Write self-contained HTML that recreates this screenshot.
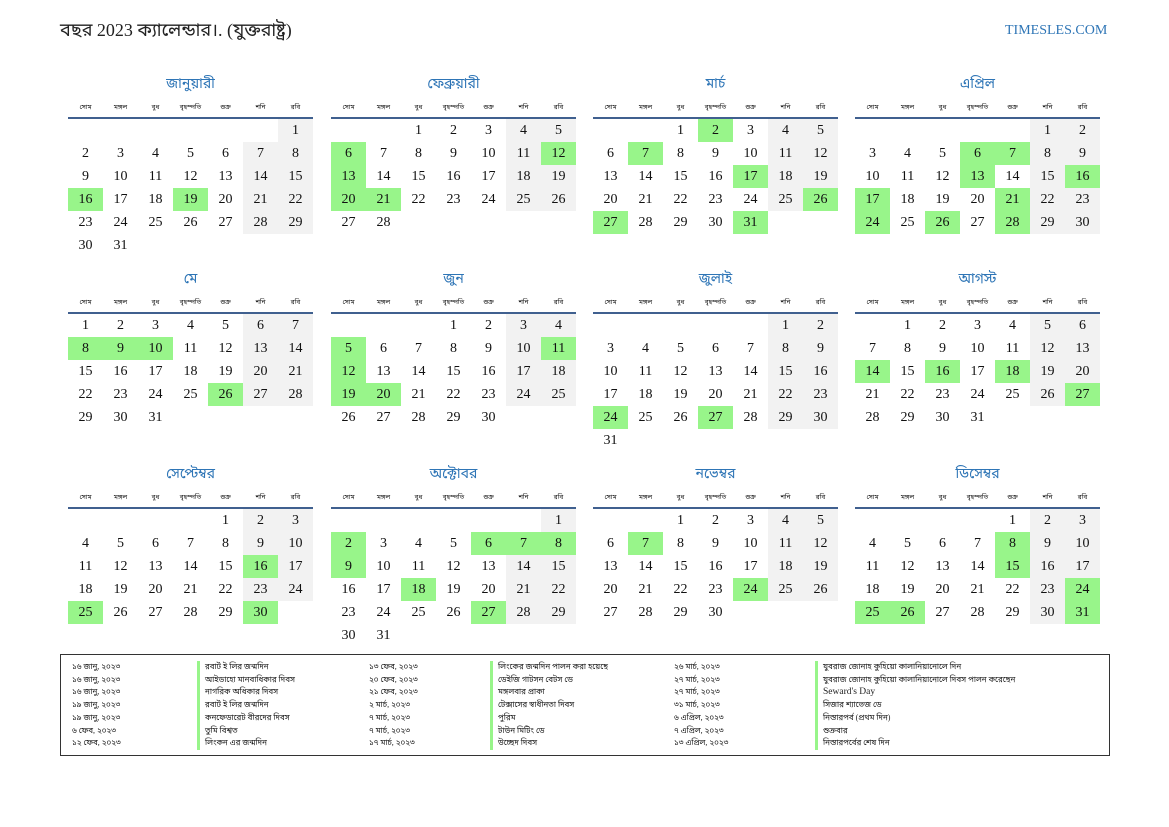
<!DOCTYPE html>
<html><head><meta charset="utf-8">
<style>
body{margin:0;width:1169px;height:827px;background:#fff;position:relative;overflow:hidden;font-family:"Liberation Serif","Noto Sans Bengali","Lohit Bengali",serif;}
.t{position:absolute;left:60px;top:20px;font-size:18px;color:#222;}
.site{position:absolute;left:1005px;top:23px;font-size:14px;color:#2e75b6;}
.m{position:absolute;width:245px;}
.m h3{margin:0;height:22px;text-align:center;font-weight:normal;font-size:14px;color:#2e75b6;line-height:24px;}
.dn{display:flex;height:22px;border-bottom:2px solid #40608f;}
.dn span{width:35px;text-align:center;font-size:6.5px;color:#222;line-height:26px;}
table{border-collapse:collapse;table-layout:fixed;width:245px;}
td{width:35px;height:23px;padding:0;text-align:center;font-size:14px;color:#111;}
td.w{background:#f2f2f2;}
td.g{background:#98f58a;}
.box{position:absolute;left:60px;top:654px;width:1048px;height:100px;border:1.5px solid #333;font-size:8px;color:#222;}
.c{position:absolute;top:6px;line-height:12.7px;}
.b div{border-left:3px solid #98f58a;padding-left:5px;}
</style></head><body>
<div class="t">বছর 2023 ক্যালেন্ডার।. (যুক্তরাষ্ট্র)</div>
<div class="site">TIMESLES.COM</div>

<div class="m" style="left:68px;top:73px"><h3>জানুয়ারী</h3><div class="dn"><span>সোম</span><span>মঙ্গল</span><span>বুধ</span><span>বৃহস্পতি</span><span>শুক্র</span><span>শনি</span><span>রবি</span></div><table>
<tr><td></td><td></td><td></td><td></td><td></td><td></td><td class="w">1</td></tr>
<tr><td>2</td><td>3</td><td>4</td><td>5</td><td>6</td><td class="w">7</td><td class="w">8</td></tr>
<tr><td>9</td><td>10</td><td>11</td><td>12</td><td>13</td><td class="w">14</td><td class="w">15</td></tr>
<tr><td class="g">16</td><td>17</td><td>18</td><td class="g">19</td><td>20</td><td class="w">21</td><td class="w">22</td></tr>
<tr><td>23</td><td>24</td><td>25</td><td>26</td><td>27</td><td class="w">28</td><td class="w">29</td></tr>
<tr><td>30</td><td>31</td><td></td><td></td><td></td><td></td><td></td></tr></table></div>

<div class="m" style="left:331px;top:73px"><h3>ফেব্রুয়ারী</h3><div class="dn"><span>সোম</span><span>মঙ্গল</span><span>বুধ</span><span>বৃহস্পতি</span><span>শুক্র</span><span>শনি</span><span>রবি</span></div><table>
<tr><td></td><td></td><td>1</td><td>2</td><td>3</td><td class="w">4</td><td class="w">5</td></tr>
<tr><td class="g">6</td><td>7</td><td>8</td><td>9</td><td>10</td><td class="w">11</td><td class="g">12</td></tr>
<tr><td class="g">13</td><td>14</td><td>15</td><td>16</td><td>17</td><td class="w">18</td><td class="w">19</td></tr>
<tr><td class="g">20</td><td class="g">21</td><td>22</td><td>23</td><td>24</td><td class="w">25</td><td class="w">26</td></tr>
<tr><td>27</td><td>28</td><td></td><td></td><td></td><td></td><td></td></tr></table></div>

<div class="m" style="left:593px;top:73px"><h3>মার্চ</h3><div class="dn"><span>সোম</span><span>মঙ্গল</span><span>বুধ</span><span>বৃহস্পতি</span><span>শুক্র</span><span>শনি</span><span>রবি</span></div><table>
<tr><td></td><td></td><td>1</td><td class="g">2</td><td>3</td><td class="w">4</td><td class="w">5</td></tr>
<tr><td>6</td><td class="g">7</td><td>8</td><td>9</td><td>10</td><td class="w">11</td><td class="w">12</td></tr>
<tr><td>13</td><td>14</td><td>15</td><td>16</td><td class="g">17</td><td class="w">18</td><td class="w">19</td></tr>
<tr><td>20</td><td>21</td><td>22</td><td>23</td><td>24</td><td class="w">25</td><td class="g">26</td></tr>
<tr><td class="g">27</td><td>28</td><td>29</td><td>30</td><td class="g">31</td><td></td><td></td></tr></table></div>

<div class="m" style="left:855px;top:73px"><h3>এপ্রিল</h3><div class="dn"><span>সোম</span><span>মঙ্গল</span><span>বুধ</span><span>বৃহস্পতি</span><span>শুক্র</span><span>শনি</span><span>রবি</span></div><table>
<tr><td></td><td></td><td></td><td></td><td></td><td class="w">1</td><td class="w">2</td></tr>
<tr><td>3</td><td>4</td><td>5</td><td class="g">6</td><td class="g">7</td><td class="w">8</td><td class="w">9</td></tr>
<tr><td>10</td><td>11</td><td>12</td><td class="g">13</td><td>14</td><td class="w">15</td><td class="g">16</td></tr>
<tr><td class="g">17</td><td>18</td><td>19</td><td>20</td><td class="g">21</td><td class="w">22</td><td class="w">23</td></tr>
<tr><td class="g">24</td><td>25</td><td class="g">26</td><td>27</td><td class="g">28</td><td class="w">29</td><td class="w">30</td></tr></table></div>

<div class="m" style="left:68px;top:268px"><h3>মে</h3><div class="dn"><span>সোম</span><span>মঙ্গল</span><span>বুধ</span><span>বৃহস্পতি</span><span>শুক্র</span><span>শনি</span><span>রবি</span></div><table>
<tr><td>1</td><td>2</td><td>3</td><td>4</td><td>5</td><td class="w">6</td><td class="w">7</td></tr>
<tr><td class="g">8</td><td class="g">9</td><td class="g">10</td><td>11</td><td>12</td><td class="w">13</td><td class="w">14</td></tr>
<tr><td>15</td><td>16</td><td>17</td><td>18</td><td>19</td><td class="w">20</td><td class="w">21</td></tr>
<tr><td>22</td><td>23</td><td>24</td><td>25</td><td class="g">26</td><td class="w">27</td><td class="w">28</td></tr>
<tr><td>29</td><td>30</td><td>31</td><td></td><td></td><td></td><td></td></tr></table></div>

<div class="m" style="left:331px;top:268px"><h3>জুন</h3><div class="dn"><span>সোম</span><span>মঙ্গল</span><span>বুধ</span><span>বৃহস্পতি</span><span>শুক্র</span><span>শনি</span><span>রবি</span></div><table>
<tr><td></td><td></td><td></td><td>1</td><td>2</td><td class="w">3</td><td class="w">4</td></tr>
<tr><td class="g">5</td><td>6</td><td>7</td><td>8</td><td>9</td><td class="w">10</td><td class="g">11</td></tr>
<tr><td class="g">12</td><td>13</td><td>14</td><td>15</td><td>16</td><td class="w">17</td><td class="w">18</td></tr>
<tr><td class="g">19</td><td class="g">20</td><td>21</td><td>22</td><td>23</td><td class="w">24</td><td class="w">25</td></tr>
<tr><td>26</td><td>27</td><td>28</td><td>29</td><td>30</td><td></td><td></td></tr></table></div>

<div class="m" style="left:593px;top:268px"><h3>জুলাই</h3><div class="dn"><span>সোম</span><span>মঙ্গল</span><span>বুধ</span><span>বৃহস্পতি</span><span>শুক্র</span><span>শনি</span><span>রবি</span></div><table>
<tr><td></td><td></td><td></td><td></td><td></td><td class="w">1</td><td class="w">2</td></tr>
<tr><td>3</td><td>4</td><td>5</td><td>6</td><td>7</td><td class="w">8</td><td class="w">9</td></tr>
<tr><td>10</td><td>11</td><td>12</td><td>13</td><td>14</td><td class="w">15</td><td class="w">16</td></tr>
<tr><td>17</td><td>18</td><td>19</td><td>20</td><td>21</td><td class="w">22</td><td class="w">23</td></tr>
<tr><td class="g">24</td><td>25</td><td>26</td><td class="g">27</td><td>28</td><td class="w">29</td><td class="w">30</td></tr>
<tr><td>31</td><td></td><td></td><td></td><td></td><td></td><td></td></tr></table></div>

<div class="m" style="left:855px;top:268px"><h3>আগস্ট</h3><div class="dn"><span>সোম</span><span>মঙ্গল</span><span>বুধ</span><span>বৃহস্পতি</span><span>শুক্র</span><span>শনি</span><span>রবি</span></div><table>
<tr><td></td><td>1</td><td>2</td><td>3</td><td>4</td><td class="w">5</td><td class="w">6</td></tr>
<tr><td>7</td><td>8</td><td>9</td><td>10</td><td>11</td><td class="w">12</td><td class="w">13</td></tr>
<tr><td class="g">14</td><td>15</td><td class="g">16</td><td>17</td><td class="g">18</td><td class="w">19</td><td class="w">20</td></tr>
<tr><td>21</td><td>22</td><td>23</td><td>24</td><td>25</td><td class="w">26</td><td class="g">27</td></tr>
<tr><td>28</td><td>29</td><td>30</td><td>31</td><td></td><td></td><td></td></tr></table></div>

<div class="m" style="left:68px;top:463px"><h3>সেপ্টেম্বর</h3><div class="dn"><span>সোম</span><span>মঙ্গল</span><span>বুধ</span><span>বৃহস্পতি</span><span>শুক্র</span><span>শনি</span><span>রবি</span></div><table>
<tr><td></td><td></td><td></td><td></td><td>1</td><td class="w">2</td><td class="w">3</td></tr>
<tr><td>4</td><td>5</td><td>6</td><td>7</td><td>8</td><td class="w">9</td><td class="w">10</td></tr>
<tr><td>11</td><td>12</td><td>13</td><td>14</td><td>15</td><td class="g">16</td><td class="w">17</td></tr>
<tr><td>18</td><td>19</td><td>20</td><td>21</td><td>22</td><td class="w">23</td><td class="w">24</td></tr>
<tr><td class="g">25</td><td>26</td><td>27</td><td>28</td><td>29</td><td class="g">30</td><td></td></tr></table></div>

<div class="m" style="left:331px;top:463px"><h3>অক্টোবর</h3><div class="dn"><span>সোম</span><span>মঙ্গল</span><span>বুধ</span><span>বৃহস্পতি</span><span>শুক্র</span><span>শনি</span><span>রবি</span></div><table>
<tr><td></td><td></td><td></td><td></td><td></td><td></td><td class="w">1</td></tr>
<tr><td class="g">2</td><td>3</td><td>4</td><td>5</td><td class="g">6</td><td class="g">7</td><td class="g">8</td></tr>
<tr><td class="g">9</td><td>10</td><td>11</td><td>12</td><td>13</td><td class="w">14</td><td class="w">15</td></tr>
<tr><td>16</td><td>17</td><td class="g">18</td><td>19</td><td>20</td><td class="w">21</td><td class="w">22</td></tr>
<tr><td>23</td><td>24</td><td>25</td><td>26</td><td class="g">27</td><td class="w">28</td><td class="w">29</td></tr>
<tr><td>30</td><td>31</td><td></td><td></td><td></td><td></td><td></td></tr></table></div>

<div class="m" style="left:593px;top:463px"><h3>নভেম্বর</h3><div class="dn"><span>সোম</span><span>মঙ্গল</span><span>বুধ</span><span>বৃহস্পতি</span><span>শুক্র</span><span>শনি</span><span>রবি</span></div><table>
<tr><td></td><td></td><td>1</td><td>2</td><td>3</td><td class="w">4</td><td class="w">5</td></tr>
<tr><td>6</td><td class="g">7</td><td>8</td><td>9</td><td>10</td><td class="w">11</td><td class="w">12</td></tr>
<tr><td>13</td><td>14</td><td>15</td><td>16</td><td>17</td><td class="w">18</td><td class="w">19</td></tr>
<tr><td>20</td><td>21</td><td>22</td><td>23</td><td class="g">24</td><td class="w">25</td><td class="w">26</td></tr>
<tr><td>27</td><td>28</td><td>29</td><td>30</td><td></td><td></td><td></td></tr></table></div>

<div class="m" style="left:855px;top:463px"><h3>ডিসেম্বর</h3><div class="dn"><span>সোম</span><span>মঙ্গল</span><span>বুধ</span><span>বৃহস্পতি</span><span>শুক্র</span><span>শনি</span><span>রবি</span></div><table>
<tr><td></td><td></td><td></td><td></td><td>1</td><td class="w">2</td><td class="w">3</td></tr>
<tr><td>4</td><td>5</td><td>6</td><td>7</td><td class="g">8</td><td class="w">9</td><td class="w">10</td></tr>
<tr><td>11</td><td>12</td><td>13</td><td>14</td><td class="g">15</td><td class="w">16</td><td class="w">17</td></tr>
<tr><td>18</td><td>19</td><td>20</td><td>21</td><td>22</td><td class="w">23</td><td class="g">24</td></tr>
<tr><td class="g">25</td><td class="g">26</td><td>27</td><td>28</td><td>29</td><td class="w">30</td><td class="g">31</td></tr></table></div>

<div class="box">
<div class="c" style="left:11px"><div>১৬ জানু, ২০২৩</div><div>১৬ জানু, ২০২৩</div><div>১৬ জানু, ২০২৩</div><div>১৯ জানু, ২০২৩</div><div>১৯ জানু, ২০২৩</div><div>৬ ফেব, ২০২৩</div><div>১২ ফেব, ২০২৩</div></div>
<div class="c b" style="left:136px"><div>রবার্ট ই লির জন্মদিন</div><div>আইডাহো মানবাধিকার দিবস</div><div>নাগরিক অধিকার দিবস</div><div>রবার্ট ই লির জন্মদিন</div><div>কনফেডারেট বীরদের দিবস</div><div>তুমি বিশ্বত</div><div>লিংকন এর জন্মদিন</div></div>
<div class="c" style="left:308px"><div>১৩ ফেব, ২০২৩</div><div>২০ ফেব, ২০২৩</div><div>২১ ফেব, ২০২৩</div><div>২ মার্চ, ২০২৩</div><div>৭ মার্চ, ২০২৩</div><div>৭ মার্চ, ২০২৩</div><div>১৭ মার্চ, ২০২৩</div></div>
<div class="c b" style="left:429px"><div>লিংকের জন্মদিন পালন করা হয়েছে</div><div>ডেইজি গাটসন বেটস ডে</div><div>মঙ্গলবার প্রাকা</div><div>টেক্সাসের স্বাধীনতা দিবস</div><div>পুরিম</div><div>টাউন মিটিং ডে</div><div>উচ্ছেদ দিবস</div></div>
<div class="c" style="left:613px"><div>২৬ মার্চ, ২০২৩</div><div>২৭ মার্চ, ২০২৩</div><div>২৭ মার্চ, ২০২৩</div><div>৩১ মার্চ, ২০২৩</div><div>৬ এপ্রিল, ২০২৩</div><div>৭ এপ্রিল, ২০২৩</div><div>১৩ এপ্রিল, ২০২৩</div></div>
<div class="c b" style="left:754px"><div>যুবরাজ জোনাহ কুহিয়ো কালানিয়ানোলে দিন</div><div>যুবরাজ জোনাহ কুহিয়ো কালানিয়ানোলে দিবস পালন করেছেন</div><div style="font-size:9.5px">Seward's Day</div><div>সিজার শ্যাভেজ ডে</div><div>নিস্তারপর্ব (প্রথম দিন)</div><div>শুক্রবার</div><div>নিস্তারপর্বের শেষ দিন</div></div>
</div>
</body></html>
